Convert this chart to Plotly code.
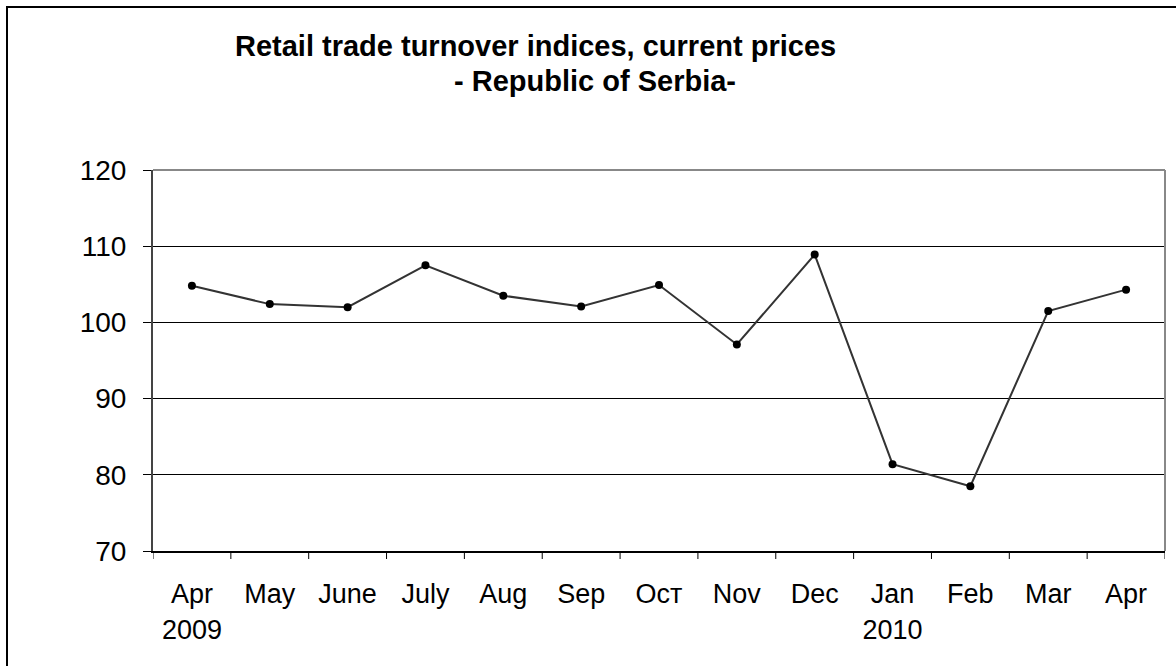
import plotly.graph_objects as go

months = ["Apr<br>2009", "May", "June", "July", "Aug", "Sep", "Ocт", "Nov", "Dec", "Jan<br>2010", "Feb", "Mar", "Apr"]
index_values = [104.8, 102.4, 102.0, 107.5, 103.5, 102.1, 104.9, 97.1, 108.9, 81.4, 78.5, 101.5, 104.3]
y_ticks = [70, 80, 90, 100, 110, 120]

cat_ids = list(range(len(months)))

fig = go.Figure()
fig.add_trace(go.Scatter(
    x=cat_ids, y=index_values, mode="lines+markers",
    line=dict(color="#333333", width=2),
    marker=dict(color="black", size=8),
    showlegend=False, hoverinfo="x+y",
))

fig.update_layout(
    width=1176, height=666,
    margin=dict(l=153, r=11, t=170, b=115, autoexpand=False),
    paper_bgcolor="white", plot_bgcolor="white",
    font=dict(family="Liberation Sans, Arial, sans-serif", color="black"),
)

fig.update_xaxes(
    range=[-0.5, len(months) - 0.5],
    tickmode="array", tickvals=cat_ids, ticktext=months,
    showgrid=False, zeroline=False,
    showline=True, linecolor="black", linewidth=2,
    ticks="", tickfont=dict(size=27, color="black"),
    ticklabelstandoff=18,
)
fig.update_yaxes(
    range=[70, 120], tickmode="array", tickvals=y_ticks,
    showgrid=True, gridcolor="black", gridwidth=1,
    zeroline=False,
    showline=True, linecolor="#444444", linewidth=2,
    ticks="outside", ticklen=8, tickcolor="black", tickwidth=1,
    tickfont=dict(size=28, color="black"),
    ticklabelstandoff=11,
)

# boundary ticks on x axis
for i in range(len(months) + 1):
    fig.add_shape(type="line", xref="x", yref="paper",
                  x0=i - 0.5, x1=i - 0.5, y0=0, y1=-0.021,
                  line=dict(color="black", width=1))

# plot area top and right borders (gray)
fig.add_shape(type="line", xref="paper", yref="paper", x0=0, x1=1, y0=1, y1=1,
              line=dict(color="#888888", width=2))
fig.add_shape(type="line", xref="paper", yref="paper", x0=1, x1=1, y0=0, y1=1,
              line=dict(color="#888888", width=2))

# outer chart border (top and left visible)
fig.add_shape(type="rect", xref="paper", yref="paper",
              x0=(7 - 153) / 1012, x1=(1200 - 153) / 1012,
              y0=(666 - 700 - 115) / 381, y1=(666 - 7 - 115) / 381,
              line=dict(color="black", width=2), layer="below")

fig.add_annotation(text="<b>Retail trade turnover indices, current prices</b>",
                   xref="paper", yref="paper",
                   x=(535 - 153) / 1012, y=(666 - 46 - 115) / 381,
                   showarrow=False, font=dict(size=29, color="black"),
                   xanchor="center", yanchor="middle")
fig.add_annotation(text="<b>- Republic of Serbia-</b>",
                   xref="paper", yref="paper",
                   x=(595 - 153) / 1012, y=(666 - 81 - 115) / 381,
                   showarrow=False, font=dict(size=29, color="black"),
                   xanchor="center", yanchor="middle")

fig.write_html("out.html", config={"displayModeBar": False},
               post_script="document.body.style.margin='0';document.body.style.overflow='hidden';")
